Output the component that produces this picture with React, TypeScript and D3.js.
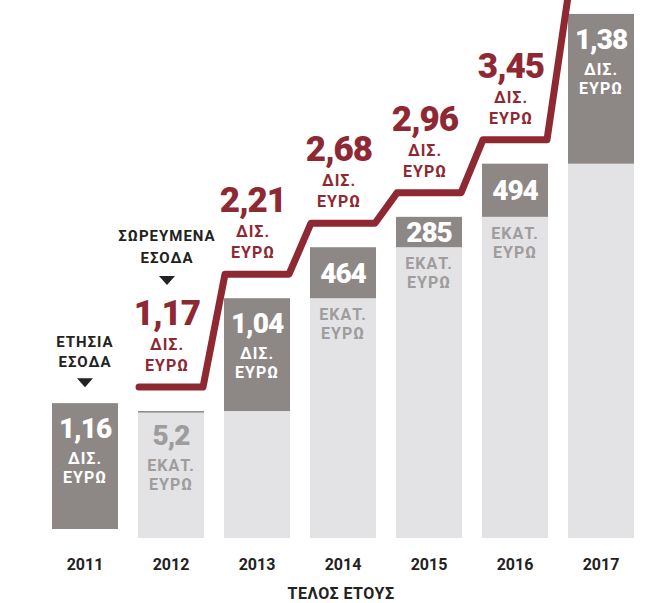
import React from 'react';
import * as d3 from 'd3';

// data (billions of euro)
const years = ['2011', '2012', '2013', '2014', '2015', '2016', '2017'];
const cumulative = [1.16, 1.17, 2.21, 2.68, 2.96, 3.45, 4.83];
const annualLabels = ['1,16', '5,2', '1,04', '464', '285', '494', '1,38'];
const annualUnits = ['ΔΙΣ.', 'ΕΚΑΤ.', 'ΔΙΣ.', 'ΕΚΑΤ.', 'ΕΚΑΤ.', 'ΕΚΑΤ.', 'ΔΙΣ.'];
const cumulativeLabels = ['', '1,17', '2,21', '2,68', '2,96', '3,45', ''];

const RED = '#8e2934';
const DARK = '#8d8786';
const LIGHT = '#e3e3e5';
const GREY_TEXT = '#9e9c9c';
const FONT = 'Roboto, "Noto Sans", sans-serif';

const W = 653;
const H = 603;

export default function App() {
  const x = d3.scaleBand<string>()
    .domain(years)
    .range([42, 644])
    .paddingInner(20 / 86)
    .paddingOuter(10 / 86);
  const y = d3.scaleLinear().domain([0, 5]).range([538, -4.5]);
  const bw = x.bandwidth();
  const lineLift = 24;
  const firstLift = 9;

  // red step line for cumulative revenue, 2012 onwards
  const pts: [number, number][] = [];
  for (let i = 1; i < years.length; i++) {
    const level = y(cumulative[i]) - lineLift;
    const x0 = x(years[i])!;
    pts.push([x0 + 1, level]);
    pts.push([x0 + bw - 1, level]);
  }
  const stepLine = d3.line()(pts) || '';

  const numStyle = { fontFamily: FONT, fontWeight: 900, fontSize: 28, letterSpacing: -1 };
  const unitStyle = { fontFamily: FONT, fontWeight: 700, fontSize: 16, letterSpacing: 1 };

  const bars = years.map((yr, i) => {
    const x0 = x(yr)!;
    const cx = x0 + bw / 2;
    const prev = i === 0 ? 0 : cumulative[i - 1];
    const lift = i === 0 ? firstLift : 0;
    const segTop = y(cumulative[i]) - lift;
    const segBottom = y(prev) - lift;
    const segH = Math.max(segBottom - segTop, 1.5);
    const items: React.ReactNode[] = [];

    if (i > 0) {
      items.push(<rect key="l" x={x0} y={y(prev)} width={bw} height={y(0) - y(prev)} fill={LIGHT} />);
    }
    items.push(<rect key="d" x={x0} y={segTop} width={bw} height={segH} fill={DARK} />);

    if (segH > 90) {
      items.push(
        <g key="t" fill="#fff" textAnchor="middle">
          <text x={cx} y={segTop + 35} style={numStyle}>{annualLabels[i]}</text>
          <text x={cx} y={segTop + 61} style={unitStyle}>{annualUnits[i]}</text>
          <text x={cx} y={segTop + 80} style={unitStyle}>ΕΥΡΩ</text>
        </g>
      );
    } else if (segH > 15) {
      items.push(
        <g key="t" textAnchor="middle">
          <text x={cx} y={(segTop + segBottom) / 2 + 10} fill="#fff" style={numStyle}>{annualLabels[i]}</text>
          <text x={cx} y={segBottom + 22} fill={GREY_TEXT} style={unitStyle}>{annualUnits[i]}</text>
          <text x={cx} y={segBottom + 41} fill={GREY_TEXT} style={unitStyle}>ΕΥΡΩ</text>
        </g>
      );
    } else {
      items.push(
        <g key="t" fill={GREY_TEXT} textAnchor="middle">
          <text x={cx} y={segTop + 34} style={numStyle}>{annualLabels[i]}</text>
          <text x={cx} y={segTop + 60} style={unitStyle}>{annualUnits[i]}</text>
          <text x={cx} y={segTop + 79} style={unitStyle}>ΕΥΡΩ</text>
        </g>
      );
    }

    items.push(
      <text key="yr" x={cx} y={570} textAnchor="middle" fill="#222"
        style={{ fontFamily: FONT, fontWeight: 700, fontSize: 16 }}>{yr}</text>
    );
    return <g key={yr}>{items}</g>;
  });

  const cumLabels = years.map((yr, i) => {
    if (!cumulativeLabels[i]) return null;
    const level = y(cumulative[i]) - lineLift;
    const cx = x(yr)! + bw / 2 - 4;
    return (
      <g key={'c' + yr} fill={RED} textAnchor="middle">
        <text x={cx} y={level - 62} style={{ fontFamily: FONT, fontWeight: 900, fontSize: 35, letterSpacing: -1 }}>
          {cumulativeLabels[i]}
        </text>
        <text x={cx} y={level - 37} style={unitStyle}>ΔΙΣ.</text>
        <text x={cx} y={level - 16} style={unitStyle}>ΕΥΡΩ</text>
      </g>
    );
  });

  const annotStyle = { fontFamily: FONT, fontWeight: 700, fontSize: 15, letterSpacing: 1 };
  const tri = (cx: number, bottom: number) =>
    `M${cx - 8},${bottom - 9}L${cx + 8},${bottom - 9}L${cx},${bottom}Z`;

  // "ΕΤΗΣΙΑ ΕΣΟΔΑ" above the first bar
  const aX = x(years[0])! + bw / 2;
  const aTop = y(cumulative[0]) - firstLift;
  // "ΣΩΡΕΥΜΕΝΑ ΕΣΟΔΑ" above the first cumulative label
  const sX = x(years[1])! + bw / 2 - 4;
  const sNum = y(cumulative[1]) - lineLift - 62;

  return (
    <svg width={W} height={H} style={{ position: 'absolute', left: 0, top: 0, background: '#fff' }}>
      {bars}
      <path d={stepLine} fill="none" stroke={RED} strokeWidth={7} strokeLinejoin="round" strokeLinecap="round" />
      {cumLabels}
      <g fill="#222" textAnchor="middle">
        <text x={aX} y={aTop - 56} style={annotStyle}>ΕΤΗΣΙΑ</text>
        <text x={aX} y={aTop - 36} style={annotStyle}>ΕΣΟΔΑ</text>
        <path d={tri(aX, aTop - 16)} />
        <text x={sX} y={sNum - 84} style={annotStyle}>ΣΩΡΕΥΜΕΝΑ</text>
        <text x={sX} y={sNum - 62} style={annotStyle}>ΕΣΟΔΑ</text>
        <path d={tri(sX, sNum - 40)} />
      </g>
      <text x={341} y={599} textAnchor="middle" fill="#222"
        style={{ fontFamily: FONT, fontWeight: 700, fontSize: 16, letterSpacing: 0.5 }}>ΤΕΛΟΣ ΕΤΟΥΣ</text>
    </svg>
  );
}
